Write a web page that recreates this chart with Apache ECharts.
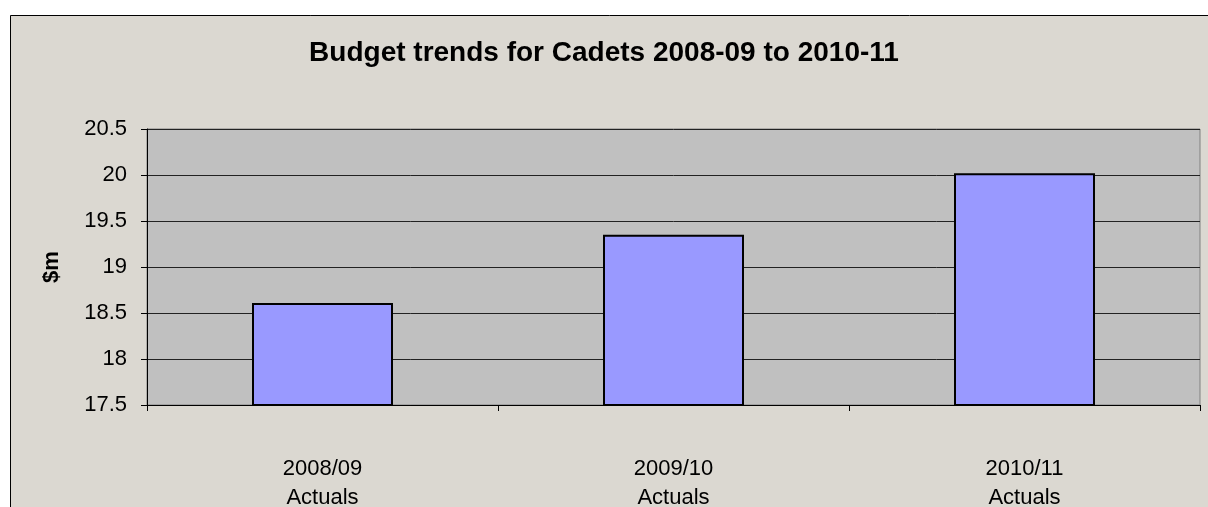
<!DOCTYPE html>
<html>
<head>
<meta charset="utf-8">
<script src="https://cdn.jsdelivr.net/npm/echarts@6/dist/echarts.min.js"></script>
<style>
  html, body { margin: 0; padding: 0; background: #ffffff; }
  #chart { width: 1208px; height: 507px; }
</style>
</head>
<body>
<div id="chart"></div>
<script>
  const categories = ['2008/09\nActuals', '2009/10\nActuals', '2010/11\nActuals'];
  const values = [18.61, 19.35, 20.02];
  const yTicks = [17.5, 18, 18.5, 19, 19.5, 20, 20.5];

  const font = '"Liberation Sans", Arial, sans-serif';
  let chart = echarts.init(document.getElementById('chart'));
  let option = {
    animation: false,
    backgroundColor: '#ffffff',
    graphic: [
      {
        type: 'rect',
        z: -10,
        shape: { x: 10.5, y: 15.5, width: 1220, height: 520 },
        style: { fill: '#DBD8D1', stroke: '#000000', lineWidth: 1 }
      }
    ],
    title: {
      text: 'Budget trends for Cadets 2008-09 to 2010-11',
      left: 'center',
      top: 34,
      textStyle: { fontFamily: font, fontSize: 28, fontWeight: 'bold', color: '#000' }
    },
    grid: {
      left: 147, top: 129, width: 1053, height: 276,
      outerBoundsMode: 'none',
      containLabel: false,
      show: true,
      backgroundColor: '#C0C0C0',
      borderColor: '#808080',
      borderWidth: 1
    },
    xAxis: {
      type: 'category',
      data: categories,
      axisLine: { lineStyle: { color: '#000', width: 1 } },
      axisTick: { show: true, length: 6, lineStyle: { color: '#000' } },
      axisLabel: { fontFamily: font, fontSize: 22, color: '#000', lineHeight: 29, margin: 49 }
    },
    yAxis: {
      type: 'value',
      min: yTicks[0],
      max: yTicks[yTicks.length - 1],
      interval: 0.5,
      name: '$m',
      nameLocation: 'middle',
      nameGap: 84,
      nameRotate: 90,
      nameTextStyle: { fontFamily: font, fontSize: 22, fontWeight: 'bold', color: '#000' },
      axisLine: { show: true, lineStyle: { color: '#000', width: 1 } },
      axisTick: { show: true, length: 6, lineStyle: { color: '#000' } },
      axisLabel: { fontFamily: font, fontSize: 22, color: '#000', margin: 20 },
      splitLine: { show: true, lineStyle: { color: '#222', width: 1 } }
    },
    series: [
      {
        type: 'bar',
        data: values,
        barWidth: 141,
        itemStyle: { color: '#9999FF', borderColor: '#000', borderWidth: 2 }
      }
    ]
  };
  chart.setOption(option);
</script>
</body>
</html>
